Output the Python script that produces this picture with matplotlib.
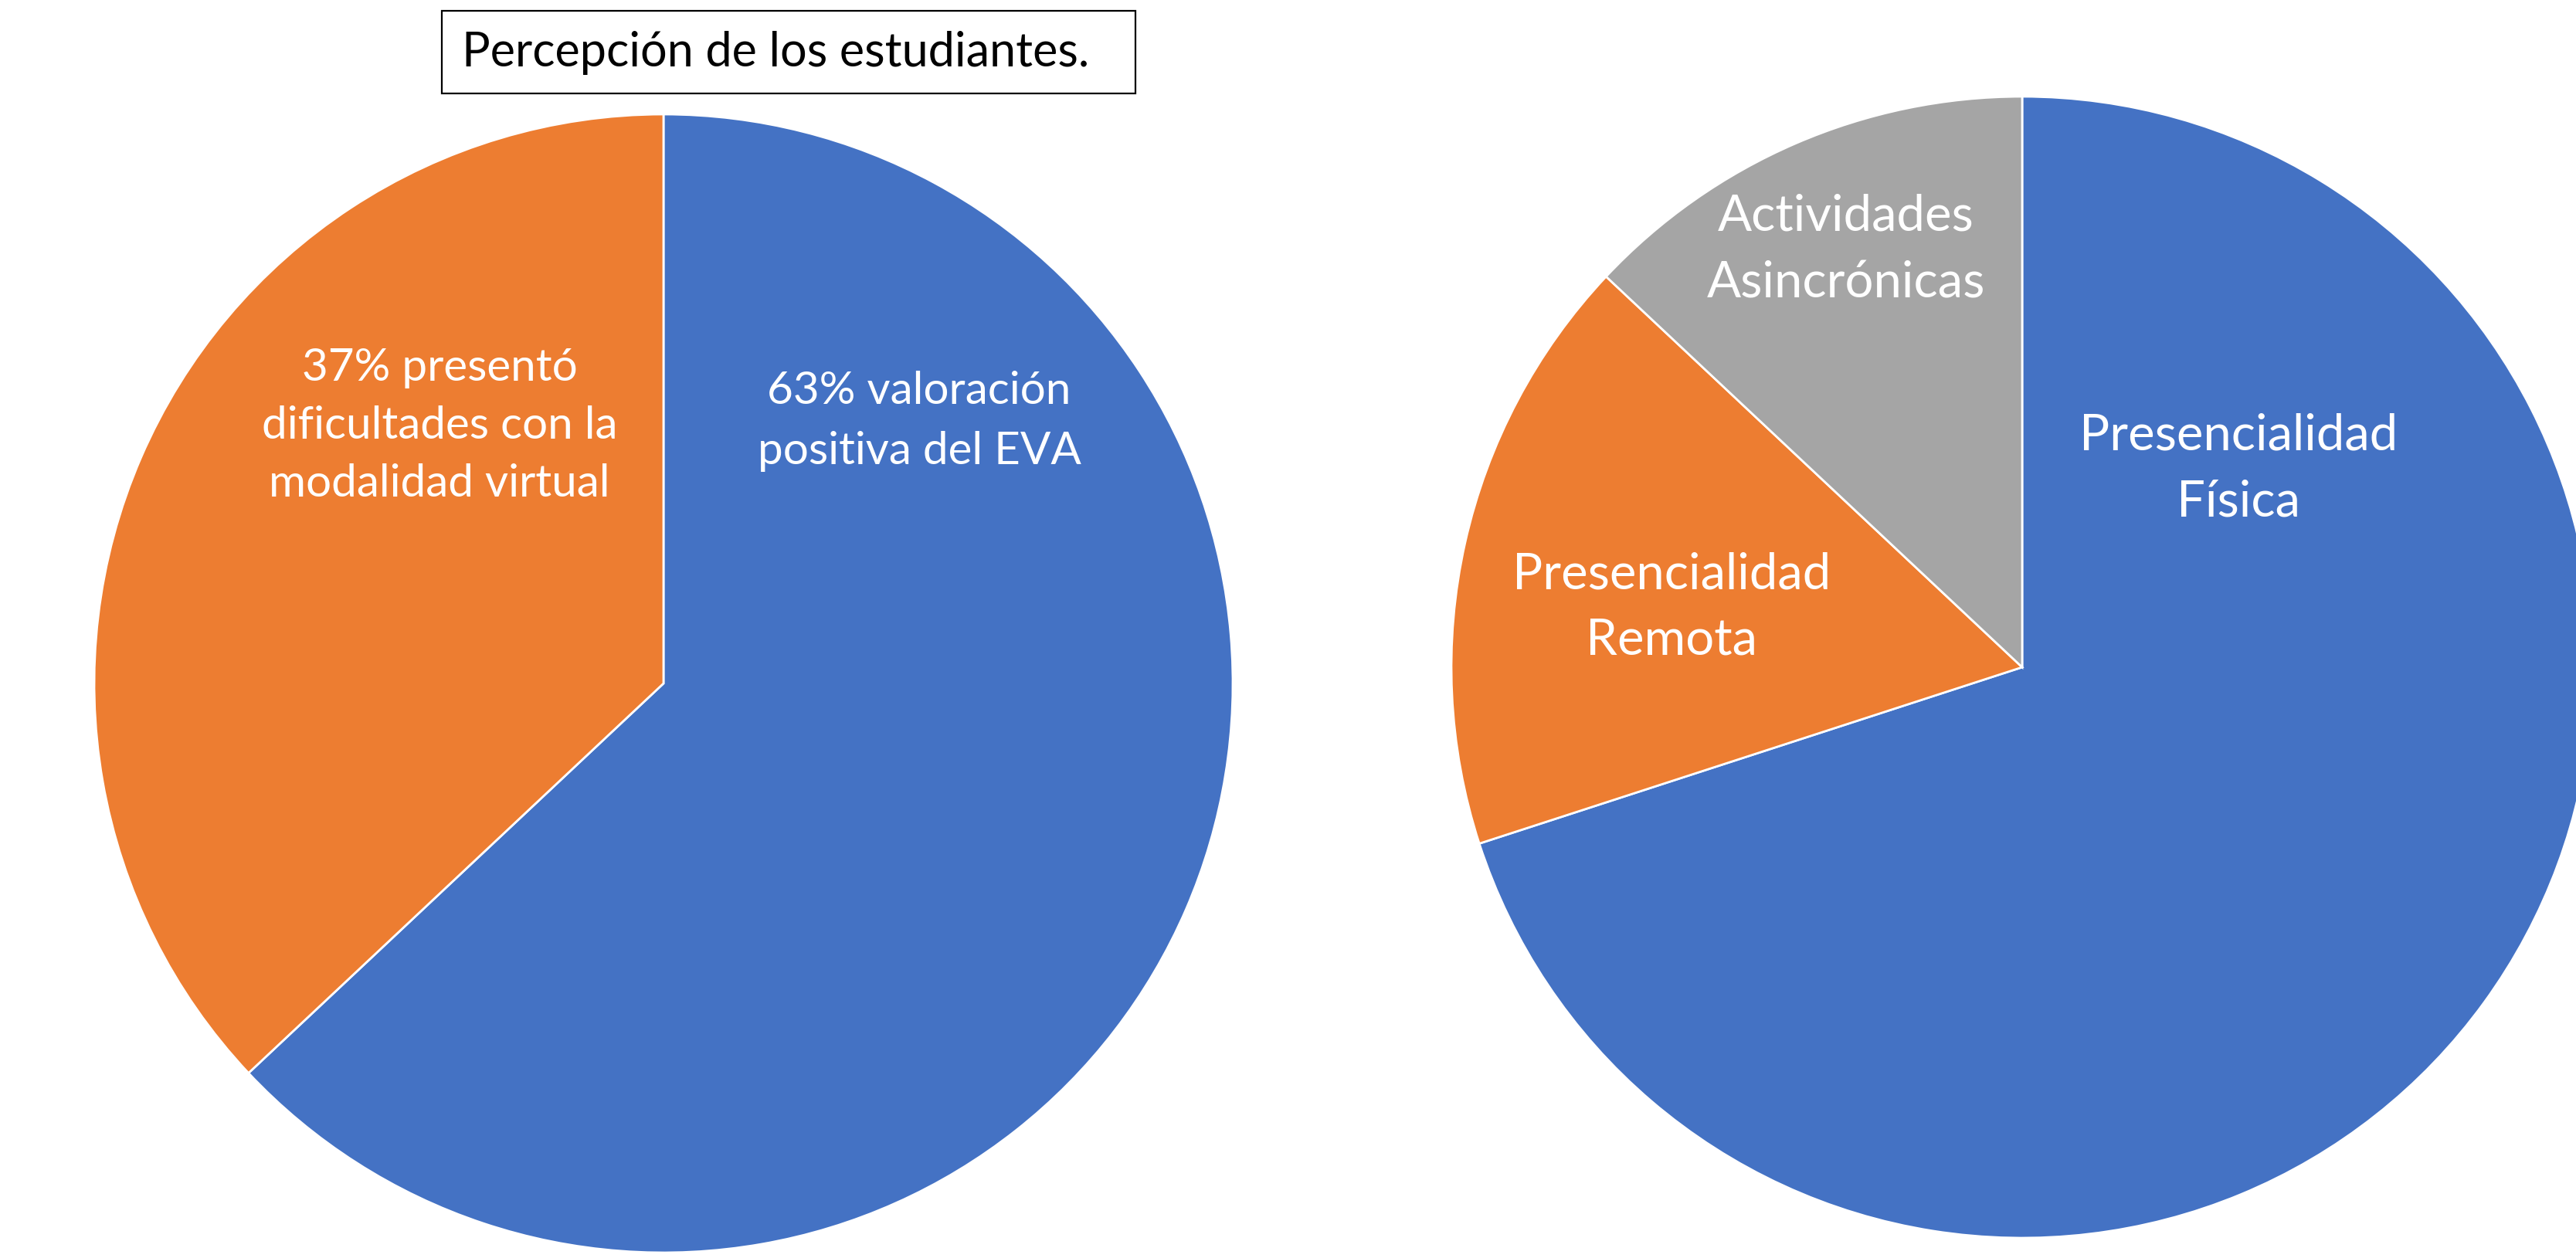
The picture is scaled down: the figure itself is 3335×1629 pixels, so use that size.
import matplotlib
matplotlib.use('Agg')
import matplotlib.pyplot as plt
from matplotlib.patches import Rectangle

W, H = 3335, 1629

# Percepción de los estudiantes
percepcion_labels = ['63% valoración\npositiva del EVA',
                     '37% presentó\ndificultades con la\nmodalidad virtual']
percepcion_values = [63, 37]

# Modalidad de trabajo
modalidad_labels = ['Presencialidad\nFísica', 'Presencialidad\nRemota',
                    'Actividades\nAsincrónicas']
modalidad_values = [70, 17, 13]

colores = ['#4472C4', '#ED7D31', '#A5A5A5']

plt.rcParams['font.family'] = ['Lato', 'DejaVu Sans']

fig = plt.figure(figsize=(W / 100, H / 100), dpi=100)
ax = fig.add_axes([0, 0, 1, 1])


def etiqueta(x, y, texto, size, gap):
    # y en pixeles desde arriba, una linea por vez
    for i, linea in enumerate(texto.split('\n')):
        ax.text(x, H - (y + i * gap), linea, color='white', fontsize=size,
                ha='center', va='baseline')


# torta izquierda
ax.pie(percepcion_values, colors=colores[:2], startangle=90, counterclock=False,
       center=(859, H - 885), radius=737,
       wedgeprops=dict(edgecolor='white', linewidth=2))

# torta derecha
ax.pie(modalidad_values, colors=colores, startangle=90, counterclock=False,
       center=(2618, H - 864), radius=739,
       wedgeprops=dict(edgecolor='white', linewidth=2))

etiqueta(1190, 523, percepcion_labels[0], 42, 78)
etiqueta(569, 493, percepcion_labels[1], 42, 75)

etiqueta(2898, 582, modalidad_labels[0], 47, 86)
etiqueta(2164, 762, modalidad_labels[1], 47, 85)
etiqueta(2390, 298, modalidad_labels[2], 47, 87)

# recuadro del titulo
ax.add_patch(Rectangle((572, H - 121), 898, 107, fill=False,
                       edgecolor='black', linewidth=1.6))
ax.text(598, H - 86, 'Percepción de los estudiantes.', fontsize=44,
        color='black', ha='left', va='baseline')

ax.set_xlim(0, W)
ax.set_ylim(0, H)
ax.set_aspect('equal')
ax.axis('off')

fig.savefig('out.png', dpi=100, facecolor='white')
